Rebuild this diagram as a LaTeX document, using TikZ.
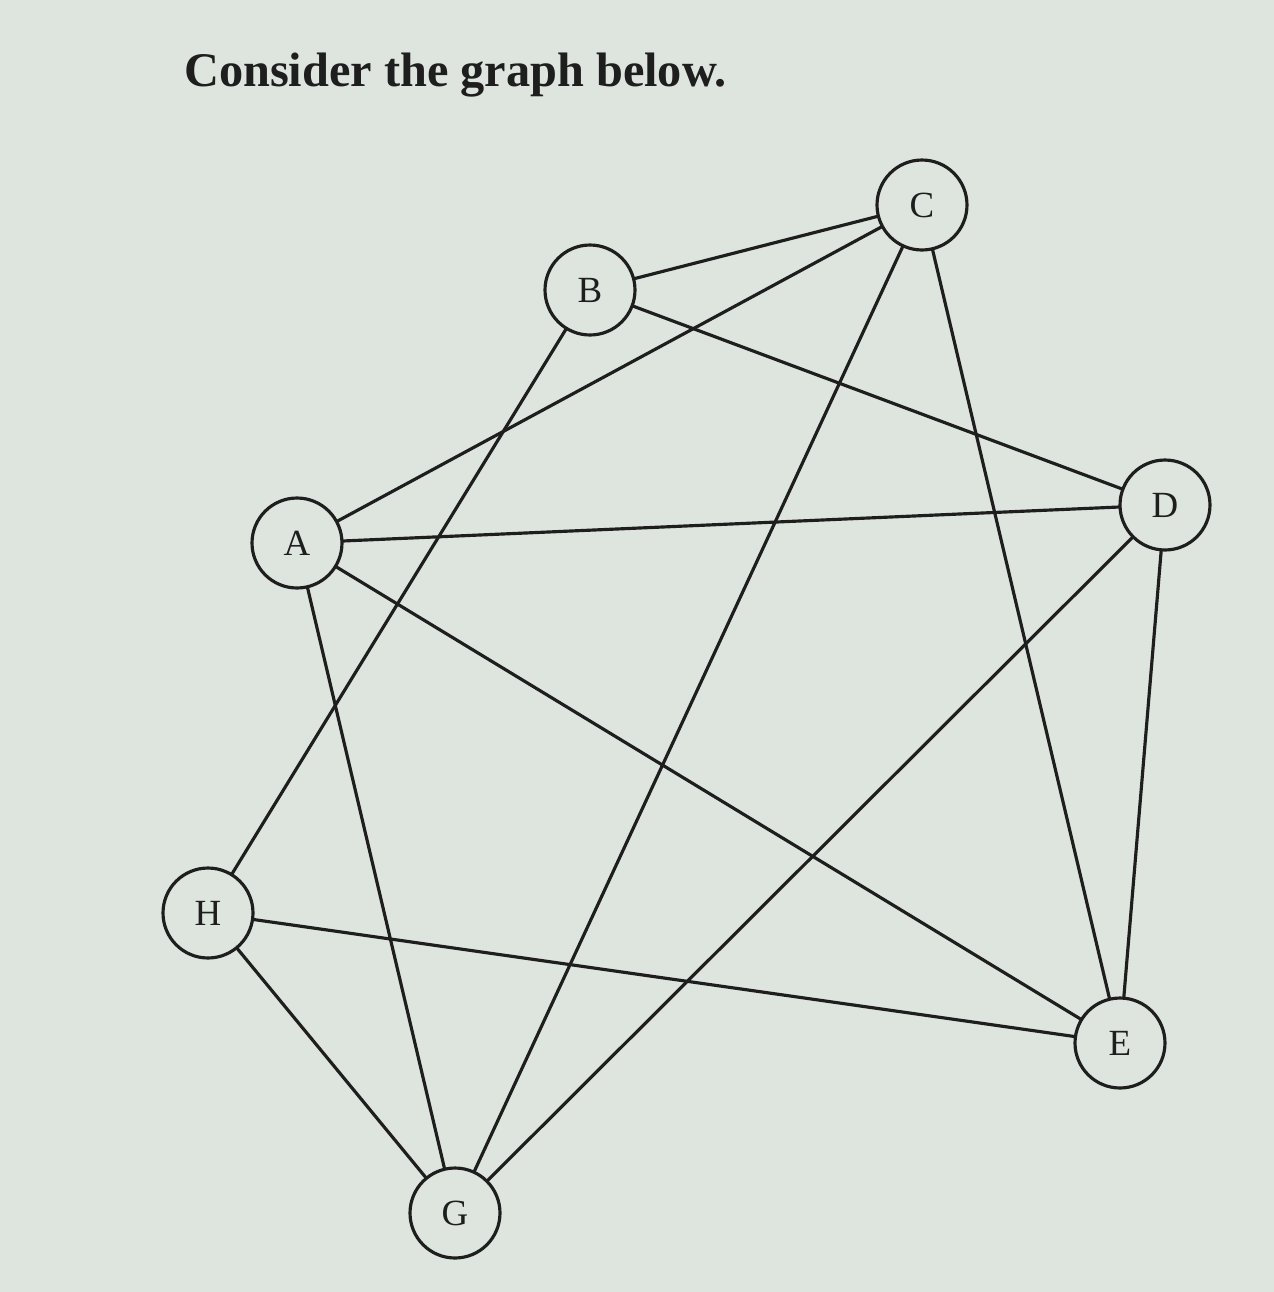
\documentclass[tikz,border=0pt]{standalone}
\usepackage{fontspec}
\setmainfont{Liberation Serif}
\definecolor{bg}{RGB}{222,228,222}
\definecolor{ink}{RGB}{30,30,30}
\begin{document}
\begin{tikzpicture}[x=0.02cm,y=-0.02cm,
  vert/.style={circle,draw=ink,line width=1.8pt,fill=bg,minimum size=1.8cm,inner sep=0pt,font=\fontsize{21}{23}\selectfont,text=ink},
  edge/.style={draw=ink,line width=1.8pt}]
\fill[bg] (0,0) rectangle (1274,1292);
\useasboundingbox (0,0) rectangle (1274,1292);
\node[anchor=west,font=\fontsize{27.5}{30}\selectfont\bfseries,text=ink] (title) at (178,75) {Consider the graph below.};
\coordinate (pC) at (922,205);
\coordinate (pB) at (590,290);
\coordinate (pD) at (1165,505);
\coordinate (pA) at (297,543);
\coordinate (pH) at (208,913);
\coordinate (pE) at (1120,1043);
\coordinate (pG) at (455,1213);
\foreach \a/\b in {B/C,A/C,C/G,C/E,B/D,B/H,A/D,A/E,A/G,D/G,D/E,H/E,H/G}
  \draw[edge] (p\a) -- (p\b);
\foreach \n in {A,B,C,D,E,G,H}
  \node[vert] (\n) at (p\n) {\n};
\end{tikzpicture}
\end{document}
